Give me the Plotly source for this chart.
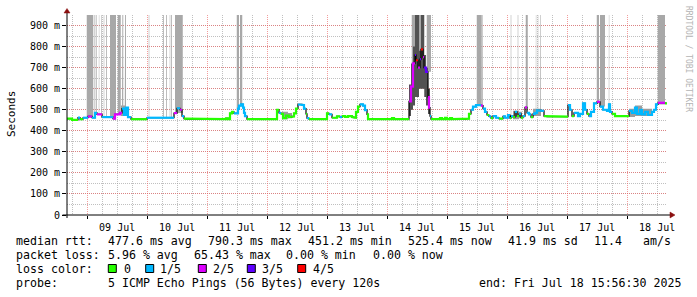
import numpy as np
import pandas as pd
import plotly.graph_objects as go

# ---------------- data ----------------
START = pd.Timestamp("2025-07-08 15:56:30")
SPAN_HOURS = 240  # 10 days shown, ends Fri Jul 18 15:56:30 2025

# median rtt (ms), step values starting at given hour offsets from START
median_hours = [
    0, 2, 4.4, 5.2, 6.4, 8.4, 10, 11.2, 12, 14,
    18.4, 19.2, 21.2, 22, 22.8, 23.6, 24.4, 25.6, 32, 42.8,
    44, 45.2, 46, 46.8, 47.6, 60.4, 62, 63.6, 64.4, 65.2,
    66, 66.8, 68.4, 68.8, 69.6, 70.4, 70.8, 71.2, 72, 84,
    84.8, 85.6, 86.4, 87.6, 88.8, 90, 90.8, 91.6, 92.4, 94,
    94.8, 95.6, 96, 96.8, 104, 104.8, 106, 108, 109.2, 110,
    111.2, 112.4, 114, 114.8, 115.6, 116.4, 117.2, 118.4, 119.2, 120,
    120.4, 130, 130.8, 132.4, 133.2, 136.8, 137.6, 138.4, 139.2, 139.6,
    140.4, 141.2, 141.6, 142.4, 142.8, 143.6, 144.4, 144.8, 145.2, 145.6,
    149.2, 150, 151.2, 152, 153.2, 154, 159.6, 160.8, 161.6, 162.4,
    163.6, 165.6, 166.4, 167.2, 168, 168.8, 169.6, 170.4, 171.6, 172.8,
    174.4, 175.2, 176.4, 177.2, 177.6, 178.4, 179.2, 180, 180.8, 181.6,
    182.4, 183.2, 184, 184.8, 185.6, 186.4, 187.2, 188, 189.6, 190.8,
    192, 199.2, 200.4, 201.2, 202, 202.8, 204.4, 205.2, 206.4, 207.2,
    208, 208.8, 209.6, 210.8, 212, 213.2, 214.4, 216, 216.8, 217.2,
    218, 219.2, 224, 224.8, 226, 227.2, 228, 229.2, 230, 231.2,
    232.4, 234, 234.8, 235.6, 236.4, 239.2,
]
median_ms = [
    458, 452, 463, 455, 462, 468, 462, 485, 478, 465,
    458, 478, 485, 505, 475, 510, 465, 455, 462, 484,
    507, 500, 470, 458, 455, 458, 455, 459, 455, 483,
    490, 483, 505, 520, 525, 510, 485, 470, 455, 499,
    485, 480, 460, 472, 465, 468, 483, 505, 525, 522,
    505, 480, 460, 455, 483, 478, 462, 468, 465, 470,
    466, 470, 465, 462, 490, 515, 525, 520, 498, 478,
    455, 460, 455, 458, 455, 540, 610, 720, 760, 735,
    700, 740, 787, 750, 700, 680, 560, 510, 470, 455,
    460, 455, 462, 455, 460, 455, 458, 480, 500, 515,
    522, 520, 505, 490, 475, 468, 460, 470, 462, 458,
    468, 462, 475, 460, 470, 465, 490, 470, 480, 462,
    470, 511, 485, 478, 465, 480, 485, 497, 495, 470,
    467, 467, 522, 500, 470, 485, 470, 480, 530, 500,
    480, 470, 490, 530, 538, 515, 500, 495, 525, 490,
    480, 470, 470, 495, 485, 510, 480, 500, 478, 490,
    475, 490, 500, 525, 533, 530,
]
# lost pings out of 5 for each step
loss_level = [
    0, 0, 1, 0, 1, 2, 1, 1, 2, 1,
    2, 2, 2, 1, 1, 1, 1, 0, 1, 2,
    1, 2, 1, 0, 0, 0, 0, 0, 0, 0,
    0, 1, 1, 1, 1, 1, 1, 1, 0, 0,
    1, 0, 0, 0, 0, 0, 0, 0, 1, 1,
    1, 0, 1, 0, 0, 1, 0, 0, 1, 0,
    0, 0, 0, 0, 0, 0, 1, 1, 1, 0,
    0, 0, 0, 0, 0, 2, 2, 2, 3, 4,
    2, 3, 4, 2, 3, 3, 2, 2, 1, 0,
    0, 0, 0, 0, 0, 0, 0, 0, 1, 1,
    1, 2, 1, 1, 0, 1, 0, 1, 1, 0,
    1, 1, 1, 0, 1, 0, 1, 0, 1, 0,
    1, 2, 1, 1, 0, 1, 1, 1, 1, 0,
    0, 0, 1, 1, 0, 1, 1, 1, 1, 1,
    0, 1, 1, 1, 2, 1, 1, 1, 1, 1,
    0, 0, 0, 1, 1, 1, 1, 1, 1, 1,
    1, 1, 1, 1, 2, 0,
]

# intervals (hours) where the smoke runs off the top of the graph
lossbar_start = [7.9, 11.0, 11.7, 12.7, 13.7, 14.7, 15.7, 17.2, 20.3, 22.0, 23.1,
                 32.7, 38.4, 39.7, 41.1, 41.6, 43.2, 67.9, 69.2,
                 137.9, 140.8, 143.9, 163.9, 166.0, 177.5, 180.3, 183.5,
                 187.5, 188.3, 189.2, 211.9, 213.2, 216.7, 236.3]
lossbar_end = [10.5, 11.3, 12.0, 12.9, 14.0, 14.9, 16.0, 19.6, 21.5, 22.5, 23.6,
               32.9, 38.7, 40.0, 41.3, 41.9, 46.3, 68.8, 70.1,
               139.2, 141.6, 145.6, 165.9, 166.3, 177.7, 180.5, 184.3,
               187.7, 188.5, 189.5, 212.8, 215.2, 216.9, 239.2]

# smoke (spread of individual pings), ms
smoke_start = [21.6, 23.2, 86.0, 88.4, 178.4, 180.8, 186.4, 224.8, 227.2, 230.0,
               136.8, 137.6, 138.4, 139.2, 140.8, 141.6, 142.9, 143.6, 144.4]
smoke_end = [23.2, 24.4, 88.4, 90.0, 180.8, 182.0, 189.6, 227.2, 230.0, 234.0,
             137.6, 138.4, 139.2, 140.8, 141.6, 142.9, 143.6, 144.4, 145.2]
smoke_lo = [470, 470, 455, 460, 455, 460, 470, 465, 470, 470,
            470, 500, 520, 560, 600, 600, 560, 520, 480]
smoke_hi = [520, 500, 490, 485, 495, 490, 505, 505, 520, 505,
            620, 720, 800, 2000, 780, 2000, 760, 700, 600]
smoke_dense = [0, 0, 0, 0, 0, 0, 0, 0, 0, 0,
               1, 1, 1, 1, 1, 1, 1, 1, 1]

y_tick_vals = [0, 100, 200, 300, 400, 500, 600, 700, 800, 900]
y_tick_text = ["0", "100 m", "200 m", "300 m", "400 m", "500 m",
               "600 m", "700 m", "800 m", "900 m"]

loss_names = ["0", "1/5", "2/5", "3/5", "4/5"]
loss_colors = ["#26ff00", "#00b8ff", "#dd00ff", "#5e00ff", "#ff0000"]

legend_rows = [
    [("median rtt:", 16), ("477.6 ms avg", 107.3), ("790.3 ms max", 207.3),
     ("451.2 ms min", 307.3), ("525.4 ms now", 407.3), ("41.9 ms sd", 507.3),
     ("11.4", 593.3), ("am/s", 642.3)],
    [("packet loss:", 16), ("5.96 % avg", 107.3), ("65.43 % max", 193.3),
     ("0.00 % min", 286), ("0.00 % now", 372.7)],
    [("loss color:", 16)],
    [("probe:", 16), ("5 ICMP Echo Pings (56 Bytes) every 120s", 107.3),
     ("end: Fri Jul 18 15:56:30 2025", 478.3)],
]

# ---------------- geometry helpers ----------------
W, H = 697, 297
L, R, T, B = 67, 30, 15, 82
PW, PH = W - L - R, H - T - B
YMAX = 950
TOP = 2000
MONO = "DejaVu Sans Mono"


def px(x):
    return (x - L) / PW


def py(y):
    return (H - B - y) / PH


def ts(h):
    return (START + pd.Timedelta(hours=float(h))).strftime("%Y-%m-%d %H:%M:%S")


hours = np.array(median_hours, float)
vals = np.array(median_ms, float)
lvl = np.array(loss_level, int)
assert len(hours) == len(vals) == len(lvl)
h_end = np.append(hours[1:], SPAN_HOURS)

fig = go.Figure()

# smoke, light
def rect_trace(starts, ends, los, his, color):
    xs, ys = [], []
    for s, e, lo, hi in zip(starts, ends, los, his):
        xs += [ts(s), ts(e), ts(e), ts(s), ts(s), None]
        ys += [lo, lo, hi, hi, lo, None]
    return go.Scatter(x=xs, y=ys, mode="lines", fill="toself", fillcolor=color,
                      line=dict(width=0, color=color), hoverinfo="skip")

sm = [i for i in range(len(smoke_start)) if smoke_dense[i] == 0]
fig.add_trace(rect_trace([smoke_start[i] for i in sm], [smoke_end[i] for i in sm],
                         [smoke_lo[i] for i in sm], [smoke_hi[i] for i in sm], "#9c9c9c"))

# loss bars from median up through the top
bar_lo = []
for s in lossbar_start:
    idx = max(0, int(np.searchsorted(hours, s, side="right")) - 1)
    bar_lo.append(vals[idx])
fig.add_trace(rect_trace(lossbar_start, lossbar_end, bar_lo, [TOP] * len(bar_lo), "#a8a8a8"))

sd = [i for i in range(len(smoke_start)) if smoke_dense[i] == 1]
fig.add_trace(rect_trace([smoke_start[i] for i in sd], [smoke_end[i] for i in sd],
                         [smoke_lo[i] for i in sd], [smoke_hi[i] for i in sd], "#525252"))

# black step line for the median
fig.add_trace(go.Scatter(x=[ts(h) for h in hours] + [ts(SPAN_HOURS)],
                         y=list(vals) + [vals[-1]], mode="lines", line_shape="hv",
                         line=dict(color="black", width=1.2), hoverinfo="skip"))

# coloured median by loss
n = len(hours)
for L_i, col in enumerate(loss_colors):
    xs, ys = [], []
    for i in range(n):
        if lvl[i] != L_i:
            continue
        xs += [ts(hours[i]), ts(h_end[i])]
        ys += [vals[i], vals[i]]
        if not (i + 1 < n and lvl[i + 1] == L_i):
            xs.append(None)
            ys.append(None)
    fig.add_trace(go.Scatter(x=xs, y=ys, mode="lines", line=dict(color=col, width=2.2),
                             hoverinfo="skip"))

MAJOR = "rgba(235,90,90,0.6)"
MINOR = "rgba(150,150,150,0.6)"

fig.update_layout(
    width=W, height=H, margin=dict(l=L, r=R, t=T, b=B, pad=0),
    paper_bgcolor="white", plot_bgcolor="white", showlegend=False,
    font=dict(family=MONO, size=10, color="black"),
    xaxis=dict(type="date", range=[ts(0), ts(SPAN_HOURS)], dtick=86400000,
               tick0="2025-07-09", tickformat="%d %b", ticklabelmode="period",
               showgrid=True, gridcolor=MAJOR, griddash="1px,1px", gridwidth=1,
               ticks="outside", ticklen=3, tickcolor="black", tickwidth=1,
               showline=False, zeroline=False, tickfont=dict(family=MONO, size=10),
               minor=dict(dtick=21600000, tick0="2025-07-09", showgrid=True,
                          gridcolor=MINOR, griddash="1px,1px", gridwidth=1)),
    yaxis=dict(range=[0, YMAX], tickmode="array", tickvals=y_tick_vals, ticktext=y_tick_text,
               showgrid=True, gridcolor=MAJOR, griddash="1px,1px", gridwidth=1,
               ticks="outside", ticklen=4, tickcolor="black", tickwidth=1,
               showline=False, zeroline=False, tickfont=dict(family=MONO, size=10),
               minor=dict(tickmode="linear", tick0=0, dtick=50, showgrid=True,
                          gridcolor=MINOR, griddash="1px,1px", gridwidth=1)),
)

shapes = []
# axis lines
shapes.append(dict(type="line", xref="paper", yref="paper", x0=px(67), x1=px(67),
                   y0=py(218), y1=py(12.5), line=dict(color="black", width=1), layer="above"))
shapes.append(dict(type="line", xref="paper", yref="paper", x0=px(62.5), x1=px(670),
                   y0=py(215), y1=py(215), line=dict(color="black", width=1), layer="above"))
ARROW = "#8b0f0f"
shapes.append(dict(type="path", xref="paper", yref="paper",
                   path=f"M {px(67)},{py(8.5)} L {px(64)},{py(13)} L {px(70)},{py(13)} Z",
                   fillcolor=ARROW, line=dict(color=ARROW, width=0.5), layer="above"))
shapes.append(dict(type="path", xref="paper", yref="paper",
                   path=f"M {px(675)},{py(215)} L {px(670)},{py(212)} L {px(670)},{py(218)} Z",
                   fillcolor=ARROW, line=dict(color=ARROW, width=0.5), layer="above"))

# legend colour boxes
box_x = [108.3, 145.7, 198.3, 247.3, 297.7]
label_x = [123.3, 160.0, 212.3, 261.7, 312.3]
for bx, col in zip(box_x, loss_colors):
    shapes.append(dict(type="rect", xref="paper", yref="paper", x0=px(bx), x1=px(bx + 8),
                       y0=py(272.5), y1=py(264.5), fillcolor=col,
                       line=dict(color="black", width=1)))
fig.update_layout(shapes=shapes)

annotations = []
row_y = [240.7, 255.3, 269.3, 283.3]
LEG_SIZE = 11.6
for r, row in enumerate(legend_rows):
    for text, x in row:
        annotations.append(dict(text=text, x=px(x - 0.8), y=py(row_y[r]), xref="paper",
                                yref="paper", xanchor="left", yanchor="middle",
                                showarrow=False, borderpad=0,
                                font=dict(family=MONO, size=LEG_SIZE, color="black")))
for name, lx in zip(loss_names, label_x):
    annotations.append(dict(text=name, x=px(lx - 0.8), y=py(row_y[2]), xref="paper",
                            yref="paper", xanchor="left", yanchor="middle",
                            showarrow=False, borderpad=0,
                            font=dict(family=MONO, size=LEG_SIZE, color="black")))
annotations.append(dict(text="Seconds", x=px(11), y=py(114), xref="paper", yref="paper",
                        xanchor="center", yanchor="middle", textangle=-90, showarrow=False,
                        font=dict(family=MONO, size=11, color="black")))
annotations.append(dict(text="RRDTOOL / TOBI OETIKER", x=px(688), y=py(59), xref="paper",
                        yref="paper", xanchor="center", yanchor="middle", textangle=90,
                        showarrow=False, font=dict(family=MONO, size=8, color="#b4b4b4")))
fig.update_layout(annotations=annotations)

fig.write_html("out.html")
